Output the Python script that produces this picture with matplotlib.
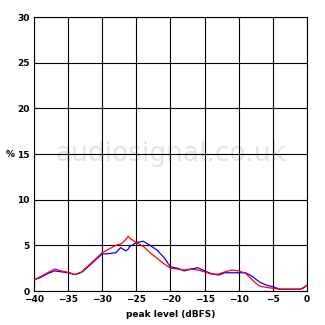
import matplotlib
matplotlib.use("Agg")
import matplotlib.pyplot as plt

peak_db = [-40, -39, -38, -37, -36, -35, -34, -33, -32, -31, -30, -29, -28, -27.3, -27, -26.5, -26.2, -26,
           -25, -24, -23, -22, -21, -20, -19, -18, -17, -16, -15, -14, -13, -12, -11, -10,
           -9, -8, -7, -6, -5, -4, -3, -2, -1, -0.5, 0]
blue = [1.2, 1.5, 1.9, 2.2, 2.1, 2.0, 1.8, 2.05, 2.7, 3.4, 4.05, 4.1, 4.2, 4.75, 4.6, 4.4, 4.6, 4.85,
        5.3, 5.45, 5.0, 4.5, 3.7, 2.65, 2.5, 2.2, 2.4, 2.55, 2.2, 1.9, 1.75, 2.0, 2.0, 2.0,
        2.0, 1.6, 1.0, 0.65, 0.47, 0.2, 0.2, 0.2, 0.2, 0.35, 0.65]
red = [1.2, 1.6, 2.0, 2.4, 2.2, 2.05, 1.8, 2.1, 2.8, 3.5, 4.2, 4.6, 5.0, 5.15, 5.3, 5.7, 6.0, 5.8,
       5.3, 4.9, 4.2, 3.6, 3.0, 2.5, 2.4, 2.3, 2.4, 2.3, 2.1, 1.85, 1.85, 2.1, 2.3, 2.2,
       1.95, 1.2, 0.55, 0.4, 0.3, 0.2, 0.2, 0.2, 0.2, 0.35, 0.65]

fig = plt.figure(figsize=(3.25, 3.25), dpi=100)
ax = fig.add_axes([0.1046, 0.1046, 0.84, 0.843])

ax.text(-20, 15, "audiosignal.co.uk", fontsize=19, color="#e4e4e4", ha="center", va="center", zorder=0)
ax.plot(peak_db, blue, color="blue", lw=0.9, zorder=3)
ax.plot(peak_db, red, color="red", lw=0.9, zorder=3)

ax.set_xlim(-40, 0)
ax.set_ylim(0, 30)
ax.set_xticks(range(-40, 1, 5))
ax.set_yticks(range(0, 31, 5))
ax.grid(True, color="black", lw=0.8)
ax.set_axisbelow(True)
for s in ax.spines.values():
    s.set_linewidth(0.8)
ax.tick_params(length=0, labelsize=6.5, pad=3)
for lab in ax.get_xticklabels() + ax.get_yticklabels():
    lab.set_fontweight("bold")
ax.set_xlabel("peak level (dBFS)", fontsize=6.5, fontweight="bold", labelpad=4)
fig.text(0.03, 0.525, "%", fontsize=6.5, fontweight="bold", ha="center", va="center")

fig.savefig("out.png", dpi=100)
